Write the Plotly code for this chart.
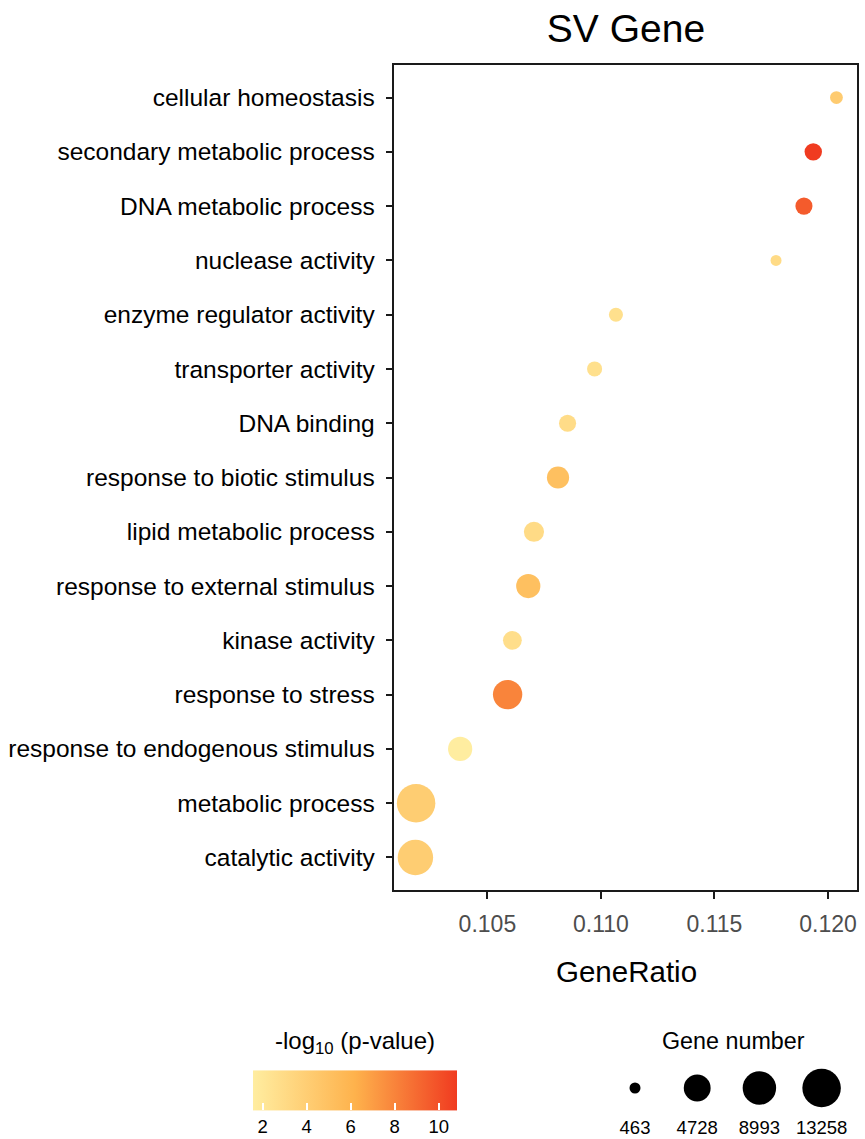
import numpy as np
import plotly.graph_objects as go

# GO terms, listed bottom to top
terms = [
    "catalytic activity",
    "metabolic process",
    "response to endogenous stimulus",
    "response to stress",
    "kinase activity",
    "response to external stimulus",
    "lipid metabolic process",
    "response to biotic stimulus",
    "DNA binding",
    "transporter activity",
    "enzyme regulator activity",
    "nuclease activity",
    "DNA metabolic process",
    "secondary metabolic process",
    "cellular homeostasis",
]
gene_ratio = [0.10183, 0.10186, 0.10380, 0.10589, 0.10610, 0.10680, 0.10705,
              0.10811, 0.10853, 0.10972, 0.11066, 0.11771, 0.11894, 0.11935, 0.12037]
gene_count = [10573, 13258, 3430, 6150, 1504, 3430, 1885,
              2587, 1095, 744, 621, 463, 1095, 1159, 520]
neg_log_p = [4.1, 4.1, 1.56, 8.0, 2.7, 5.1, 3.0,
             5.1, 2.9, 2.6, 2.6, 3.0, 9.6, 10.83, 4.2]

size_breaks = [463, 4728, 8993, 13258]
color_ticks = [2, 4, 6, 8, 10]

W, H = 865, 1139
FONT = "Liberation Sans, Arial, sans-serif"

# area-style size scale: diameter grows with sqrt of the rescaled count
D_MIN, D_MAX = 11.0, 38.5
n_lo, n_hi = min(gene_count), max(gene_count)


def diameter(n):
    n = np.asarray(n, dtype=float)
    return D_MIN + (D_MAX - D_MIN) * np.sqrt((n - n_lo) / (n_hi - n_lo))


# pixel box of the panel
PL, PR, PT, PB = 393.5, 857.0, 65.0, 890.0


def px_x(v):
    return v / W


def px_y(v):
    return 1 - v / H


fig = go.Figure()

fig.add_trace(go.Scatter(
    x=gene_ratio, y=terms, mode="markers",
    marker=dict(size=diameter(gene_count), color=neg_log_p, coloraxis="coloraxis",
                line=dict(width=0), opacity=1),
    opacity=1, showlegend=False, cliponaxis=False,
))

# size key drawn on its own small axis pair
fig.add_trace(go.Scatter(
    x=list(range(len(size_breaks))), y=[0] * len(size_breaks), mode="markers",
    marker=dict(size=diameter(size_breaks), color="#000000", line=dict(width=0), opacity=1),
    opacity=1, xaxis="x2", yaxis="y2", showlegend=False, cliponaxis=False,
))

span = 62.2
x2_lo = 635.0 - 0.6 * span
x2_hi = x2_lo + 4.2 * span

fig.update_layout(
    width=W, height=H,
    margin=dict(l=0, r=0, t=0, b=0, autoexpand=False),
    paper_bgcolor="white", plot_bgcolor="white",
    font=dict(family=FONT, color="black"),
    title=dict(text="SV Gene", x=px_x(626), y=px_y(28), xanchor="center", yanchor="middle",
               xref="paper", yref="paper", font=dict(size=39, color="black")),
    xaxis=dict(
        domain=[px_x(PL), px_x(PR)],
        range=[0.100865, 0.121276],
        tickvals=[0.105, 0.110, 0.115, 0.120],
        ticktext=["0.105", "0.110", "0.115", "0.120"],
        ticks="outside", ticklen=7, tickwidth=1.5, tickcolor="#1a1a1a",
        tickfont=dict(size=23, color="#4D4D4D"),
        showline=True, linecolor="#1a1a1a", linewidth=1.8, mirror=True,
        showgrid=False, zeroline=False, automargin=False,
        ticklabelstandoff=5,
    ),
    yaxis=dict(
        domain=[px_y(PB), px_y(PT)],
        type="category", categoryorder="array", categoryarray=terms,
        range=[-0.6, len(terms) - 0.4],
        ticks="outside", ticklen=6, tickwidth=1.5, tickcolor="#1a1a1a",
        tickfont=dict(size=24.5, color="black"),
        showline=True, linecolor="#1a1a1a", linewidth=1.8, mirror=True,
        showgrid=False, zeroline=False, automargin=False,
        ticklabelstandoff=6,
    ),
    xaxis2=dict(
        domain=[px_x(x2_lo), px_x(x2_hi)], anchor="y2",
        range=[-0.6, 3.6],
        tickvals=list(range(len(size_breaks))),
        ticktext=[str(b) for b in size_breaks],
        ticks="", tickfont=dict(size=18.5, color="black"),
        showline=False, showgrid=False, zeroline=False, automargin=False,
    ),
    yaxis2=dict(
        domain=[px_y(1114), px_y(1062)], anchor="x2",
        range=[-1, 1], visible=False,
    ),
    coloraxis=dict(
        cmin=1.56, cmax=10.83,
        colorscale=[[0.0, "#FFEDA0"], [0.5, "#FEB24C"], [1.0, "#F03B20"]],
        colorbar=dict(
            orientation="h",
            x=px_x(355), xanchor="center",
            y=px_y(1092), yanchor="middle",
            lenmode="pixels", len=204, thickness=40,
            outlinewidth=0, xpad=0, ypad=0,
            tickvals=color_ticks,
            ticks="inside", ticklen=7, tickcolor="white", tickwidth=1.5,
            tickfont=dict(size=18.5, color="black"),
            title=dict(text="-log<sub>10</sub> (p-value)", side="top",
                       font=dict(size=24, color="black")),
        ),
    ),
    annotations=[
        dict(text="GeneRatio", x=px_x(626), y=px_y(971), xref="paper", yref="paper",
             xanchor="center", yanchor="middle", showarrow=False,
             font=dict(size=29.5, color="black")),
        dict(text="Gene number", x=px_x(733), y=px_y(1041), xref="paper", yref="paper",
             xanchor="center", yanchor="middle", showarrow=False,
             font=dict(size=23.3, color="black")),
    ],
)

fig.write_html(
    "out.html",
    config={"displayModeBar": False},
    post_script="document.body.style.margin='0';document.body.style.overflow='hidden';",
)
